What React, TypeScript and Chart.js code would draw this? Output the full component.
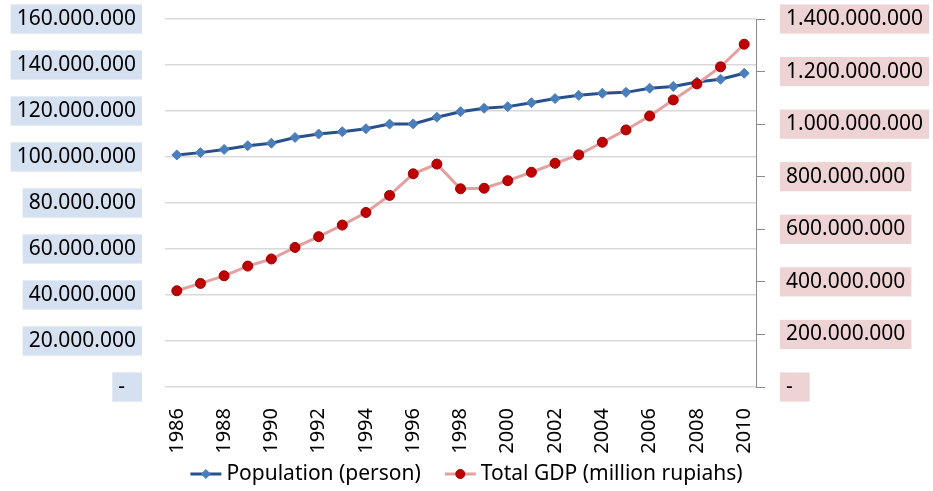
import React, { useEffect, useRef } from 'react';
import { Chart, registerables } from 'chart.js';

Chart.register(...registerables);

const years = ['1986', '1987', '1988', '1989', '1990', '1991', '1992', '1993', '1994', '1995', '1996', '1997', '1998', '1999', '2000', '2001', '2002', '2003', '2004', '2005', '2006', '2007', '2008', '2009', '2010'];

const population = [100900000, 101900000, 103300000, 104900000, 106000000, 108500000, 110000000, 111000000, 112300000, 114300000, 114400000, 117300000, 119700000, 121200000, 121900000, 123600000, 125400000, 126800000, 127700000, 128100000, 129900000, 130700000, 132600000, 133800000, 136400000];

const gdp = [366000000, 394000000, 423000000, 460000000, 487000000, 531000000, 572000000, 616000000, 664000000, 729000000, 811000000, 848000000, 754000000, 756000000, 785000000, 817000000, 851000000, 883000000, 931000000, 978000000, 1031000000, 1092000000, 1153000000, 1218000000, 1304000000];

const seriesLabels = ['Population (person)', 'Total GDP (million rupiahs)'];

const leftMax = 160000000;
const leftStep = 20000000;
const rightMax = 1400000000;
const rightStep = 200000000;

const FONT = '"Noto Sans", "Open Sans", sans-serif';

const fmt = (v: number) => {
  if (v === 0) return '-  ';
  return String(Math.round(v)).replace(/\B(?=(\d{3})+(?!\d))/g, '.');
};

const legendPlugin = {
  id: 'customLegend',
  afterDraw(chart: any) {
    const ctx: CanvasRenderingContext2D = chart.ctx;
    ctx.save();
    ctx.font = `21px ${FONT}`;
    ctx.textBaseline = 'middle';
    ctx.textAlign = 'left';
    const lineLen = 31;
    const gap = 5;
    const itemGap = 24;
    const ds = chart.data.datasets;
    const widths = ds.map((d: any) => lineLen + gap + ctx.measureText(d.label).width);
    const total = widths.reduce((a: number, b: number) => a + b, 0) + itemGap * (ds.length - 1);
    let x = chart.width / 2 - total / 2;
    const y = 474;
    ds.forEach((d: any, i: number) => {
      ctx.strokeStyle = d.borderColor;
      ctx.lineWidth = 3;
      ctx.beginPath();
      ctx.moveTo(x, y);
      ctx.lineTo(x + lineLen, y);
      ctx.stroke();
      const cx = x + lineLen / 2;
      ctx.fillStyle = d.pointBackgroundColor;
      ctx.strokeStyle = d.pointBorderColor;
      ctx.lineWidth = 1;
      ctx.beginPath();
      if (d.pointStyle === 'rectRot') {
        ctx.moveTo(cx, y - 4.5);
        ctx.lineTo(cx + 4.5, y);
        ctx.lineTo(cx, y + 4.5);
        ctx.lineTo(cx - 4.5, y);
        ctx.closePath();
      } else {
        ctx.arc(cx, y, 4.5, 0, Math.PI * 2);
      }
      ctx.fill();
      ctx.stroke();
      ctx.fillStyle = '#000';
      ctx.fillText(d.label, x + lineLen + gap, y);
      x += widths[i] + itemGap;
    });
    ctx.restore();
  },
};

const noPadY = (w: number) => (s: any) => {
  s.width = w;
  s.paddingTop = 0;
  s.paddingBottom = 0;
};

export default function App() {
  const ref = useRef<HTMLCanvasElement>(null);
  useEffect(() => {
    document.body.style.margin = '0';
    const chart = new Chart(ref.current!, {
      type: 'line',
      data: {
        labels: years,
        datasets: [
          {
            label: seriesLabels[0],
            data: population,
            yAxisID: 'yL',
            order: 1,
            borderColor: '#27508C',
            borderWidth: 3,
            pointStyle: 'rectRot',
            pointRadius: 5,
            pointBackgroundColor: '#4A7EBB',
            pointBorderColor: '#4A7EBB',
            pointBorderWidth: 1,
            tension: 0,
          },
          {
            label: seriesLabels[1],
            data: gdp,
            yAxisID: 'yR',
            order: 0,
            borderColor: '#E3A0A0',
            borderWidth: 3,
            pointStyle: 'circle',
            pointRadius: 5,
            pointBackgroundColor: '#C00000',
            pointBorderColor: '#990000',
            pointBorderWidth: 1,
            tension: 0,
          },
        ],
      },
      options: {
        animation: false,
        responsive: false,
        layout: { padding: { top: 19, left: 0, right: 0, bottom: 34 } },
        plugins: { legend: { display: false }, tooltip: { enabled: false } },
        scales: {
          x: {
            offset: true,
            grid: { display: false },
            border: { display: false },
            ticks: {
              autoSkip: false,
              maxRotation: 90,
              minRotation: 90,
              padding: 13,
              color: '#000',
              font: { family: FONT, size: 20 },
              callback: (_v: any, i: number) => (i % 2 === 0 ? years[i] : ''),
            },
            afterFit: (s: any) => {
              s.height = 70;
              s.paddingLeft = 0;
              s.paddingRight = 0;
            },
          },
          yL: {
            position: 'left',
            min: 0,
            max: leftMax,
            grid: { color: '#D9D9D9', lineWidth: 1.5, drawTicks: false },
            border: { display: false },
            ticks: {
              stepSize: leftStep,
              padding: 29,
              color: '#000',
              font: { family: FONT, size: 21, lineHeight: 1.2 },
              showLabelBackdrop: true,
              backdropColor: '#D5E0F0',
              backdropPadding: { x: 6, y: 2 },
              callback: (v: any) => fmt(Number(v)),
            },
            afterFit: noPadY(165),
          },
          yR: {
            position: 'right',
            min: 0,
            max: rightMax,
            grid: { drawOnChartArea: false, drawTicks: true, tickLength: 9, color: '#8C8C8C' },
            border: { display: true, color: '#8C8C8C' },
            ticks: {
              stepSize: rightStep,
              padding: 21,
              color: '#000',
              font: { family: FONT, size: 21, lineHeight: 1.2 },
              showLabelBackdrop: true,
              backdropColor: '#EED3D4',
              backdropPadding: { x: 6, y: 2 },
              callback: (v: any) => fmt(Number(v)),
            },
            afterFit: noPadY(177),
          },
        },
      } as any,
      plugins: [legendPlugin],
    });
    return () => chart.destroy();
  }, []);
  return (
    <div style={{ width: 933, height: 491 }}>
      <canvas ref={ref} width={933} height={491} style={{ display: 'block' }} />
    </div>
  );
}
